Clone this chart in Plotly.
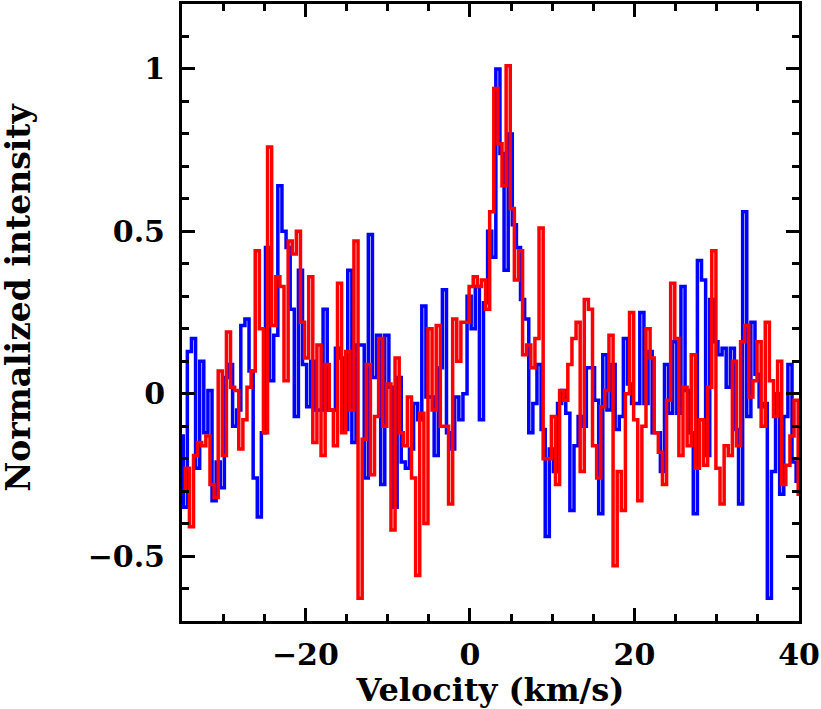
import numpy as np
import plotly.graph_objects as go

# channel grid of the two spectra (km/s)
chan_width = 0.5
blue_start = -35.1
red_start = -34.85

# normalized intensities read channel by channel
blue_vals = [-0.13, -0.35, 0.13, 0.17, -0.23, 0.10, -0.12, 0.01, -0.33, -0.21,
             -0.29, 0.05, 0.09, -0.10, -0.05, 0.21, 0.23, 0.07, -0.26, -0.38,
             -0.12, 0.45, 0.04, 0.18, 0.64, 0.50, 0.45, 0.26, -0.07, 0.38,
             0.09, -0.04, 0.10, -0.05, -0.05, 0.26, -0.05, -0.05, 0.14, 0.11,
             -0.11, 0.38, -0.15, 0.15, 0.15, -0.26, 0.49, 0.05, 0.18, -0.28,
             0.18, 0.02, -0.35, 0.05, -0.21, -0.23, -0.17, -0.03, -0.08, 0.27,
             -0.01, -0.01, -0.19, 0.08, 0.32, -0.12, -0.17, -0.01, -0.08, 0.00,
             0.30, 0.20, 0.33, -0.08, 0.28, 0.50, 0.42, 1.00, 0.74, 0.38,
             0.80, 0.52, 0.45, 0.29, 0.23, -0.12, -0.03, 0.09, -0.11, -0.44,
             -0.17, -0.24, -0.03, 0.01, -0.06, -0.36, -0.16, -0.07, -0.10, 0.08,
             0.08, -0.02, -0.37, 0.12, -0.05, 0.09, -0.11, -0.07, 0.17, 0.03,
             -0.03, -0.03, 0.25, -0.03, 0.13, -0.12, -0.12, -0.24, 0.09, -0.06,
             0.16, -0.06, 0.33, 0.01, -0.12, -0.37, 0.41, 0.35, -0.19, 0.29,
             0.16, 0.12, 0.14, 0.02, 0.14, -0.11, -0.34, 0.56, -0.07, 0.22,
             0.06, -0.04, -0.03, -0.63, -0.24, 0.00, -0.31, -0.07, 0.09, -0.21,
             -0.27, -0.27]

red_vals = [-0.30, -0.23, -0.41, -0.19, -0.15, -0.16, -0.13, -0.28, -0.32, 0.07,
            -0.19, 0.19, 0.02, 0.01, -0.17, -0.08, 0.02, 0.07, 0.44, 0.20,
            -0.12, 0.76, 0.21, 0.36, 0.33, 0.04, 0.47, 0.43, 0.50, 0.22,
            0.11, 0.36, -0.15, 0.15, -0.19, 0.09, -0.05, -0.16, 0.34, -0.12,
            0.13, -0.05, 0.47, -0.63, -0.14, 0.09, -0.25, -0.07, 0.17, -0.10,
            0.03, -0.42, 0.11, -0.12, -0.16, -0.01, -0.26, -0.56, -0.06, -0.40,
            0.20, -0.05, 0.21, -0.10, -0.10, -0.34, 0.23, 0.10, 0.22, 0.22,
            0.33, 0.36, 0.33, 0.35, 0.26, 0.56, 0.94, 0.77, 0.64, 1.01,
            0.57, 0.35, 0.44, 0.12, 0.15, 0.08, 0.17, 0.51, -0.20, -0.20,
            -0.07, -0.28, 0.01, -0.02, 0.09, 0.17, 0.22, -0.24, 0.29, 0.26,
            -0.16, -0.26, -0.04, 0.01, 0.18, -0.53, -0.24, -0.36, 0.00, 0.25,
            -0.08, -0.33, -0.10, 0.20, 0.11, -0.12, -0.18, -0.28, -0.02, 0.34,
            0.17, -0.19, 0.02, -0.16, 0.12, -0.23, -0.08, -0.22, 0.02, 0.44,
            -0.23, -0.34, -0.16, -0.19, 0.10, -0.16, 0.16, 0.21, -0.01, 0.04,
            0.16, -0.10, 0.22, 0.04, -0.07, 0.10, -0.28, -0.22, -0.13, -0.02,
            -0.31, -0.31]

blue_vel = blue_start + chan_width * np.arange(len(blue_vals))
red_vel = red_start + chan_width * np.arange(len(red_vals))

fnt = "DejaVu Serif"

fig = go.Figure()
fig.add_trace(go.Scatter(x=blue_vel, y=blue_vals, mode='lines',
                         line=dict(color='#0000ff', width=3.5, shape='hvh'),
                         name='blue'))
fig.add_trace(go.Scatter(x=red_vel, y=red_vals, mode='lines',
                         line=dict(color='#ff0000', width=3.5, shape='hvh'),
                         name='red'))

axis_common = dict(showline=True, linecolor='black', linewidth=3, mirror='allticks',
                   ticks='inside', tickcolor='black', tickwidth=2.5, ticklen=13,
                   showgrid=False, zeroline=False, ticklabeloverflow='allow',
                   tickfont=dict(family=fnt, size=30, color='black', weight='bold'))

fig.update_xaxes(range=[-35, 40], tick0=0, dtick=20, ticklabelstandoff=5,
                 minor=dict(dtick=5, tick0=0, ticks='inside', ticklen=7,
                            tickcolor='black', tickwidth=2.5),
                 title=dict(text='Velocity (km/s)', standoff=0,
                            font=dict(family=fnt, size=32, color='black', weight='bold')),
                 **axis_common)
fig.update_yaxes(range=[-0.7, 1.2], tick0=0, dtick=0.5, ticklabelstandoff=8,
                 minor=dict(dtick=0.1, tick0=0, ticks='inside', ticklen=7,
                            tickcolor='black', tickwidth=2.5),
                 **axis_common)

# y title placed by hand, it sits a little above the middle of the frame
fig.add_annotation(text='Normalized intensity', xref='paper', yref='paper',
                   x=-0.264, y=0.524, xanchor='center', yanchor='middle',
                   textangle=-90, showarrow=False,
                   font=dict(family=fnt, size=33, color='black', weight='bold'))

fig.update_layout(autosize=False, width=821, height=709, showlegend=False,
                  plot_bgcolor='white', paper_bgcolor='white',
                  margin=dict(l=182, r=19, t=1, b=88))

# page has an 8px body margin by default; remove it so the figure sits at 0,0
fig.write_html("out.html", config={'displayModeBar': False},
               post_script="document.body.style.margin='0';")
